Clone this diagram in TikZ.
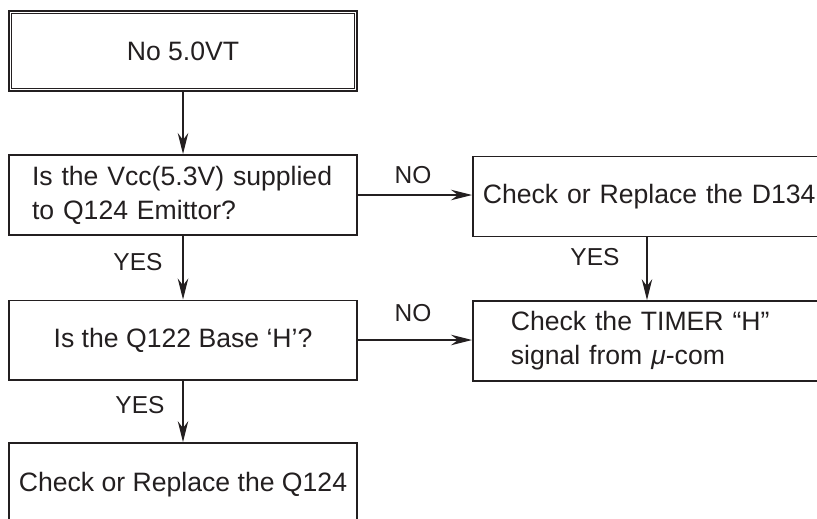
\documentclass[tikz,border=0pt]{standalone}
\usepackage{fontspec}
\setmainfont{Liberation Sans}
\usetikzlibrary{arrows.meta}
\definecolor{ink}{HTML}{231F20}
\begin{document}
\begin{tikzpicture}[x=1pt,y=-1pt,
  every node/.style={text=ink},
  box/.style={draw=ink, line width=1.7pt, rectangle, inner sep=0pt,
    font=\fontsize{26.6}{34}\selectfont},
  lbl/.style={font=\fontsize{24.5}{28}\selectfont, inner sep=0pt},
  arr/.style={draw=ink, line width=1.2pt, -{Stealth[length=21pt,width=10.5pt,inset=7pt]}}
]
\useasboundingbox (0,0) rectangle (817,519);
\clip (0,0) rectangle (817,519);
\node[box, line width=2.1pt, minimum width=348pt, minimum height=80pt] (b1) at (183,51) {No 5.0VT};
\draw[ink, line width=0.9pt] ([xshift=3.6pt,yshift=-3.6pt]b1.north west) rectangle ([xshift=-3.6pt,yshift=3.6pt]b1.south east);
\node[box, minimum width=348.3pt, minimum height=80.3pt, text width=302pt, align=left]
  (b2) at (183,195) {Is the Vcc(5.3V) supplied\\to Q124 Emittor?};
\node[box, anchor=west, minimum height=80pt, text width=380pt, inner xsep=10pt, align=left]
  (b3) at (472,196.5) {Check or Replace the D134};
\node[box, anchor=west, minimum height=80pt, text width=320pt, inner xsep=38pt, align=left]
  (b4) at (472,341) {Check the TIMER “H”\\signal from {\itshape μ}-com};
\node[box, minimum width=348.3pt, minimum height=79.3pt] (b5) at (183,340) {Is the Q122 Base ‘H’?};
\node[box, minimum width=348.3pt, minimum height=84pt] (b6) at (183,485) {Check or Replace the Q124};
\coordinate (c3) at (647,0);
\draw[arr] (b1) -- (b2);
\draw[arr] (b2) -- (b5);
\draw[arr] (b5) -- (b6);
\draw[arr] (b2.east) -- (b2.east -| b3.west);
\draw[arr] (b5.east) -- (b5.east -| b4.west);
\draw[arr] (c3 |- b3.south) -- (c3 |- b4.north);
\node[lbl] (no1) at (413,175) {NO};
\node[lbl] (no2) at (413,313) {NO};
\node[lbl] (yes1) at (138,262) {YES};
\node[lbl] (yes2) at (140,405) {YES};
\node[lbl] (yes3) at (595,257) {YES};
\end{tikzpicture}
\end{document}
